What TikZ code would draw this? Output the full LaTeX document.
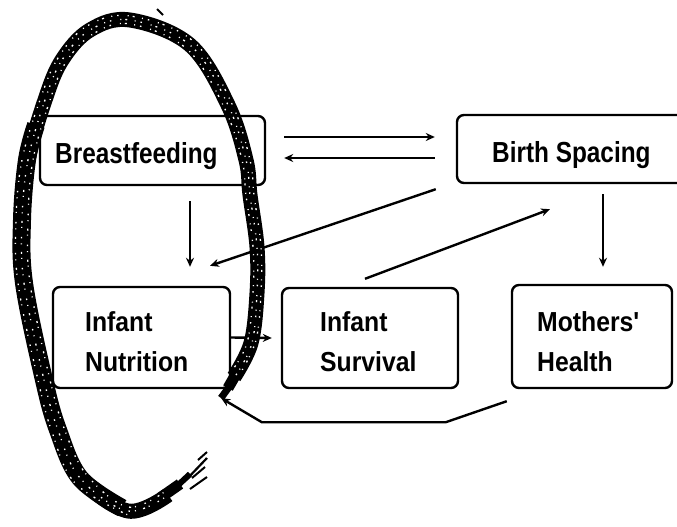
\documentclass[tikz,border=0pt]{standalone}
\usepackage{fontspec}
\usetikzlibrary{arrows.meta,calc}
\newfontfamily\wideface[FakeStretch=0.84]{Liberation Sans}
\newfontfamily\narrowface[FakeStretch=0.9]{Liberation Sans}
\tikzset{
  box/.style={draw, line width=2.4pt, rounded corners=7pt, inner sep=0pt},
  toplbl/.style={anchor=base west, inner sep=0pt, font=\wideface\bfseries\fontsize{29}{29}\selectfont},
  lowlbl/.style={anchor=north west, inner sep=0pt, align=left,
                 font=\narrowface\bfseries\fontsize{27.5}{40}\selectfont},
  arr/.style={line width=2.4pt, -{Stealth[length=9pt,width=8pt]}},
  ring/.style={line width=15pt, line join=round},
  grain/.style={white, line width=1.3pt,
    dash pattern=on 1.5pt off 5pt on 1pt off 7.5pt on 2pt off 4pt on 1pt off 9pt}
}
\begin{document}
\begin{tikzpicture}[x=1pt,y=-1pt]
\useasboundingbox (0,0) rectangle (677,527);

% boxes
\node[box, minimum width=225pt, minimum height=69pt] (bf) at (152.5,150.5) {};
\node[box, minimum width=233pt, minimum height=68pt] (bs) at (573.5,149) {};
\node[box, minimum width=177pt, minimum height=101pt] (in) at (141.5,337.5) {};
\node[box, minimum width=176pt, minimum height=100pt] (is) at (370,338) {};
\node[box, minimum width=160pt, minimum height=103pt] (mh) at (592,336.5) {};

% labels
\node[toplbl] (bft) at (55,163) {Breastfeeding};
\node[toplbl] (bst) at (492,162) {Birth Spacing};
\node[lowlbl] (int) at (85,311) {Infant\\Nutrition};
\node[lowlbl] (ist) at (320,311) {Infant\\Survival};
\node[lowlbl] (mht) at (537,311) {Mothers'\\Health};

% connectors
\draw[arr] ([xshift=18pt,yshift=13.5pt]bf.east) -- ([xshift=-21pt,yshift=12pt]bs.west);
\draw[arr] ([xshift=-21pt,yshift=-9pt]bs.west) -- ([xshift=18pt,yshift=-7.5pt]bf.east);
\draw[arr] ([xshift=37.5pt,yshift=-15pt]bf.south) -- ([xshift=48.5pt,yshift=19pt]in.north);
\draw[arr] ([xshift=-20pt,yshift=-5pt]bs.south west) -- ([xshift=68.5pt,yshift=20pt]in.north);
\draw[arr] ([xshift=-5pt,yshift=8pt]is.north) -- ([xshift=-23.5pt,yshift=-25pt]bs.south);
\draw[arr] ([xshift=29.5pt,yshift=-10pt]bs.south) -- ([xshift=11pt,yshift=17pt]mh.north);
\draw[arr] (in.east) -- ([xshift=-9pt]is.west);
\draw[arr] ([xshift=-4pt,yshift=-12pt]mh.south west) -- ++(-61,21) -- ++(-184,0)
           -- ([xshift=-10pt,yshift=-9pt]in.south east);

% hand-drawn loop round breastfeeding and infant nutrition
\draw[ring] plot[smooth, tension=0.6] coordinates {(234,377) (251,343) (257,293) (257,247)
  (250,195) (246,160) (228,105) (190,45) (130,20) (90,30) (62,60) (45,100) (28,160) (22,220)
  (24,283) (44,380) (58,430) (80,478) (128,511) (168,495)};
\draw[line width=18pt, line join=round] plot[smooth, tension=0.6] coordinates {(36,125) (27,160)
  (22,220) (24,283) (44,380) (58,430) (80,478) (122,508)};
% tapering ends
\draw[line width=11pt] (243,362) -- (228,388);
\draw[line width=7pt] (232,383) -- (221,398);
\draw[line width=11pt] (160,498) -- (180,484);
\draw[line width=6pt] (175,488) -- (190,474);
% grain of the crayon stroke
\draw[grain] plot[smooth, tension=0.6] coordinates {(236,375) (252,343) (257,293) (257,247)
  (250,195) (246,160) (228,105) (190,45) (130,20) (90,30) (62,60) (45,100) (28,160) (22,220)
  (24,283) (44,380) (58,430) (80,478) (128,511) (170,494)};
\draw[grain, dash phase=4pt] plot[smooth, tension=0.6] coordinates {(241,372) (256,340) (261,293)
  (261,247) (254,195) (250,160) (232,104) (193,41) (130,16) (87,26) (58,58) (40,100) (22,160) (16,220)
  (18,283) (38,380) (52,432) (75,483) (128,515)};
\draw[grain, dash phase=9pt] plot[smooth, tension=0.6] coordinates {(231,372) (247,343) (253,293)
  (253,247) (246,195) (242,160) (224,107) (187,49) (130,24) (93,34) (66,62) (50,100) (33,160) (28,220)
  (30,283) (50,380) (64,428) (86,474) (128,507) (167,490)};
% scratchy tail of the loop
\draw[line width=2.2pt] (186,480) -- (207,458);
\draw[line width=2pt] (192,478) -- (205,467);
\draw[line width=2pt] (190,489) -- (207,477);
\draw[line width=2pt] (198,460) -- (207,452);
\draw[line width=1.8pt] (157,9) -- (163,15);
\end{tikzpicture}
\end{document}
